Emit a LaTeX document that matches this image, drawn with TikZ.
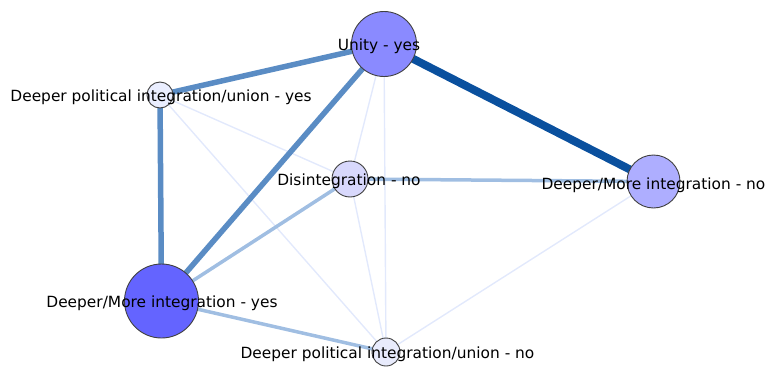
\documentclass[tikz,border=0pt]{standalone}
\usepackage{fontspec}
\setmainfont{DejaVu Sans}
\begin{document}
\begin{tikzpicture}[x=1pt,y=-1pt,
  vtx/.style={circle,draw=black!75,line width=0.9pt,inner sep=0pt,minimum size=#1},
  lbl/.style={anchor=base,inner sep=0pt,font=\fontsize{15.4}{18}\selectfont,text=black},
  wmid/.style={draw={rgb,255:red,90;green,140;blue,196},line width=5.5pt},
  wlight/.style={draw={rgb,255:red,160;green,190;blue,226},line width=3.5pt},
  wfaint/.style={draw={rgb,255:red,226;green,233;blue,252},line width=1.4pt}]
\useasboundingbox (0,0) rectangle (769,367);
\definecolor{cUnity}{RGB}{138,138,255}
\definecolor{cDMyes}{RGB}{100,100,255}
\definecolor{cDMno}{RGB}{174,174,255}
\definecolor{cDis}{RGB}{216,216,252}
\definecolor{cDPIyes}{RGB}{234,238,255}
\definecolor{cDPIno}{RGB}{232,235,252}
\definecolor{strongblue}{RGB}{10,80,158}
% node positions
\coordinate (pU) at (384,44);
\coordinate (pPY) at (160,95);
\coordinate (pD) at (350,179);
\coordinate (pMN) at (653.5,181.5);
\coordinate (pMY) at (161.5,301);
\coordinate (pPN) at (386,352);
% edges
\draw[wfaint] (pU) -- (pD);
\draw[wfaint] (pU) -- (pPN);
\draw[wfaint] (pPY) -- (pD);
\draw[wfaint] (pPY) -- (pPN);
\draw[wfaint] (pD) -- (pPN);
\draw[wfaint] (pMN) -- (pPN);
\draw[wlight] (pD) -- (pMN);
\draw[wlight] (pD) -- (pMY);
\draw[wlight] (pMY) -- (pPN);
\draw[wmid] (pU) -- (pPY);
\draw[wmid] (pU) -- (pMY);
\draw[wmid] (pPY) -- (pMY);
\draw[line width=8pt,draw=strongblue] (pU) -- (pMN);
% vertices
\node[vtx=65pt,fill=cUnity] (U) at (pU) {};
\node[vtx=26pt,fill=cDPIyes] (PY) at (pPY) {};
\node[vtx=36pt,fill=cDis] (D) at (pD) {};
\node[vtx=53pt,fill=cDMno] (MN) at (pMN) {};
\node[vtx=74pt,fill=cDMyes] (MY) at (pMY) {};
\node[vtx=28pt,fill=cDPIno] (PN) at (pPN) {};
% labels
\node[lbl] (tU) at (379,50) {Unity - yes};
\node[lbl] (tPY) at (161,101) {Deeper political integration/union - yes};
\node[lbl] (tD) at (349,185) {Disintegration - no};
\node[lbl] (tMN) at (653.5,189) {Deeper/More integration - no};
\node[lbl] (tMY) at (162,307) {Deeper/More integration - yes};
\node[lbl] (tPN) at (387.5,358) {Deeper political integration/union - no};
\end{tikzpicture}
\end{document}
